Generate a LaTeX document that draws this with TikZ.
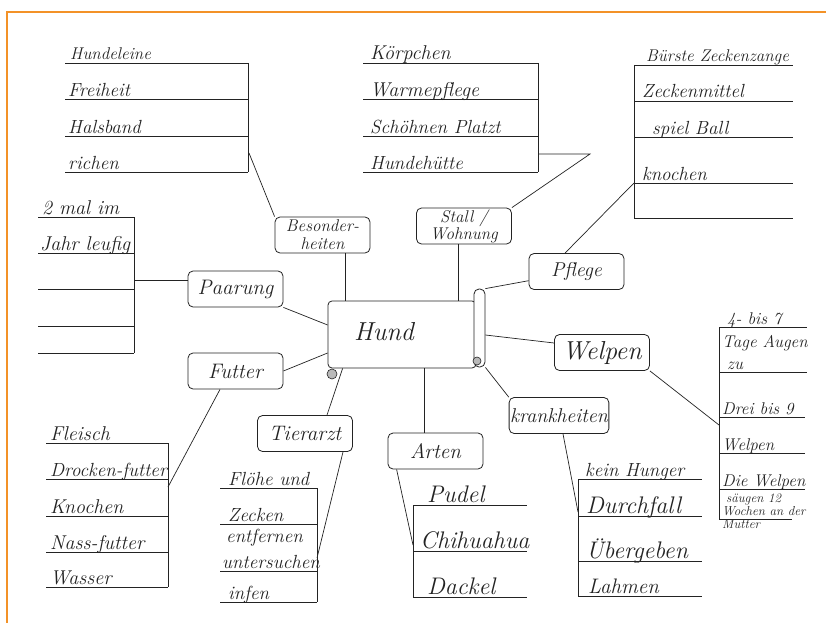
\documentclass[tikz,border=0pt]{standalone}
\usepackage{fontspec}
\usetikzlibrary{calc}
\definecolor{frameor}{RGB}{243,146,40}
\definecolor{ink}{RGB}{35,35,35}
\tikzset{
 box/.style={draw=ink, line width=0.8pt, rounded corners=5pt, minimum width=95pt, minimum height=36pt, inner sep=1pt, text=ink, align=center, font=\fontsize{21}{23}\selectfont\itshape},
 lst/.style={draw=ink, line width=0.9pt},
 conn/.style={draw=ink, line width=0.7pt},
 itm/.style={anchor=base west, inner sep=0pt, text=ink, font=\fontsize{19}{21}\selectfont\itshape},
 itmB/.style={itm, font=\fontsize{24}{26}\selectfont\itshape},
 itmM/.style={itm, font=\fontsize{21}{23}\selectfont\itshape},
 itmW/.style={itm, font=\fontsize{17}{19}\selectfont\itshape},
 itmS/.style={itm, font=\fontsize{13}{14}\selectfont\itshape},
}
\begin{document}
\begin{tikzpicture}[x=1pt,y=-1pt]
\useasboundingbox (0,0) rectangle (826,623);
\fill[white] (0,0) rectangle (826,623);
% frame
\draw[frameor, line width=2pt] (826,12) -- (7,12) -- (7,623);

% ---------- lists ----------
\draw[lst] (65,63) -- (248,63) (65,99) -- (248,99) (65,136) -- (248,136) (65,172) -- (248,172) (248,63) -- (248,172);
\node[itm, font=\fontsize{17}{19}\selectfont\itshape] (h1) at (70,60) {Hundeleine};
\node[itm] (h2) at (68,96) {Freiheit};
\node[itm] (h3) at (68,133) {Halsband};
\node[itm] (h4) at (68,169) {richen};

\draw[lst] (363,63) -- (538,63) (363,99) -- (538,99) (363,136) -- (538,136) (363,172) -- (538,172) (538,63) -- (538,172);
\node[itm, font=\fontsize{20}{22}\selectfont\itshape] (s1) at (370,60) {Körpchen};
\node[itm, font=\fontsize{20}{22}\selectfont\itshape] (s2) at (370,96) {Warmepflege};
\node[itm] (s3) at (370,133) {Schöhnen Platzt};
\node[itm] (s4) at (370,169) {Hundehütte};

\draw[lst] (634,65) -- (793,65) (634,101) -- (793,101) (634,137) -- (793,137) (634,183) -- (793,183) (634,218) -- (793,218) (634,65) -- (634,218);
\node[itm, font=\fontsize{17}{19}\selectfont\itshape] (p1) at (646,62) {Bürste Zeckenzange};
\node[itm] (p2) at (642,98) {Zeckenmittel};
\node[itm] (p3) at (652,134) {spiel Ball};
\node[itm] (p4) at (642,180) {knochen};

\draw[lst] (38,217) -- (134,217) (38,253) -- (134,253) (38,289) -- (134,289) (38,326) -- (134,326) (38,353) -- (134,353) (134,217) -- (134,353);
\node[itm, font=\fontsize{20}{22}\selectfont\itshape] (a1) at (42,214) {2 mal im};
\node[itm, font=\fontsize{20}{22}\selectfont\itshape] (a2) at (40,250) {Jahr leufig};

\draw[lst] (46,443) -- (168,443) (46,479) -- (168,479) (46,516) -- (168,516) (46,552) -- (168,552) (46,587) -- (168,587) (168,443) -- (168,587);
\node[itm, font=\fontsize{20}{22}\selectfont\itshape] (f1) at (50,440) {Fleisch};
\node[itm, font=\fontsize{19}{21}\selectfont\itshape] (f2) at (50,476) {Drocken-futter};
\node[itm, font=\fontsize{20}{22}\selectfont\itshape] (f3) at (50,513) {Knochen};
\node[itm, font=\fontsize{20}{22}\selectfont\itshape] (f4) at (50,549) {Nass-futter};
\node[itm, font=\fontsize{20}{22}\selectfont\itshape] (f5) at (50,584) {Wasser};

\draw[lst] (220,488) -- (317,488) (220,524) -- (317,524) (220,571) -- (317,571) (220,602) -- (317,602) (317,488) -- (317,602);
\node[itm] (z1) at (228,485) {Flöhe und};
\node[itm] (z2) at (228,521) {Zecken};
\node[itm] (z3) at (226,542) {entfernen};
\node[itm] (z4) at (222,568) {untersuchen};
\node[itm] (z5) at (228,599) {infen};

\draw[lst] (413,505) -- (527,505) (413,551) -- (527,551) (413,597) -- (527,597) (413,505) -- (413,597);
\node[itmB] (r1) at (427,502) {Pudel};
\node[itmB] (r2) at (420,548) {Chihuahua};
\node[itmB] (r3) at (427,594) {Dackel};

\draw[lst] (578,479) -- (702,479) (578,516) -- (702,516) (578,561) -- (702,561) (578,596) -- (702,596) (578,479) -- (578,596);
\node[itm] (k1) at (585,476) {kein Hunger};
\node[itmB] (k2) at (586,513) {Durchfall};
\node[itmB] (k3) at (586,558) {Übergeben};
\node[itmM] (k4) at (588,593) {Lahmen};

\draw[lst] (719,327) -- (807,327) (719,372) -- (807,372) (719,417) -- (805,417) (719,453) -- (805,453) (719,489) -- (805,489) (719,519) -- (792,519) (719,327) -- (719,519);
\node[itmW] (w1) at (727,324) {4- bis 7};
\node[itmW] (w2) at (722,347) {Tage Augen};
\node[itmW] (w3) at (727,369) {zu};
\node[itmW] (w4) at (722,414) {Drei bis 9};
\node[itmW] (w5) at (722,450) {Welpen};
\node[itmW] (w6) at (722,486) {Die Welpen};
\node[itmS] (w7) at (726,502) {säugen 12};
\node[itmS] (w8) at (722,515) {Wochen an der};
\node[itmS] (w9) at (722,528) {Mutter};

% ---------- central scroll ----------
\node[draw=ink, line width=0.8pt, rounded corners=4pt, minimum width=148pt, minimum height=67pt, inner xsep=0pt, inner ysep=0pt, text width=148pt, align=left, text=ink, font=\fontsize{26}{28}\selectfont\itshape] (hund) at (402,334.5) {\hspace*{26pt}\raisebox{6pt}{Hund}};
\node[draw=ink, fill=white, line width=0.8pt, rounded corners=5pt, minimum width=11pt, minimum height=78pt, inner sep=0pt] (roll) at (479.5,328) {};
\filldraw[draw=ink, fill=gray!55, line width=0.6pt] (477,361) circle (4pt);
\filldraw[draw=ink, fill=gray!55, line width=0.6pt] (332,374) circle (5pt);

% ---------- boxes ----------
\node[box, font=\fontsize{17}{18}\selectfont\itshape] (besond) at (322.5,235) {Besonder-\\heiten};
\node[box, font=\fontsize{17}{17}\selectfont\itshape] (stall) at (464,226) {Stall /\\Wohnung};
\node[box, font=\fontsize{20}{22}\selectfont\itshape] (pflege) at (576.5,271.5) {Pflege};
\node[box] (paarung) at (235.5,289) {Paarung};
\node[box] (futter) at (235.5,371) {Futter};
\node[box] (tierarzt) at (305,433.5) {Tierarzt};
\node[box] (arten) at (435.5,451) {Arten};
\node[box, font=\fontsize{20}{22}\selectfont\itshape] (krank) at (559,415.5) {krankheiten};
\node[box, font=\fontsize{26}{28}\selectfont\itshape] (welpen) at (602,352.5) {Welpen};

% ---------- connectors to scroll ----------
\coordinate (bsx) at ($(besond.south)+(23,0)$);
\draw[conn] (bsx) -- (bsx |- hund.north);
\coordinate (stx) at ($(stall.south)+(-6,0)$);
\draw[conn] (stx) -- (stx |- hund.north);
\coordinate (arx) at ($(arten.north)+(-11.5,0)$);
\draw[conn] (arx |- hund.south) -- (arx);
\draw[conn] ($(pflege.south west)!0.25!(pflege.north west)$) -- (roll.north east);
\draw[conn] ($(roll.east)+(0,7)$) -- ($(welpen.west)+(0,-9.5)$);
\draw[conn] (roll.south east) -- (krank.north west);
\draw[conn] ($(hund.south west)+(15,0)$) -- ($(tierarzt.north)+(22,0)$);
\draw[conn] (futter.east) -- ($(hund.west)+(0,18.5)$);
\draw[conn] (paarung.south east) -- ($(hund.west)+(0,-9.5)$);

% ---------- connectors to lists ----------
\coordinate (c1) at (249,153);
\draw[conn] (c1) -- (besond.north west);
\coordinate (c2) at (538,154);
\coordinate (c2b) at (590,154);
\draw[conn] (c2) -- (c2b) -- (stall.north east);
\coordinate (c3) at (634,183);
\draw[conn] (c3) -- ($(pflege.north)+(-11.5,0)$);
\coordinate (c4) at (134,280);
\draw[conn] (c4) -- (c4 -| paarung.west);
\coordinate (c5) at (168,487);
\draw[conn] ($(futter.south)+(-15.5,0)$) -- (c5);
\coordinate (c6) at (317,558);
\draw[conn] ($(tierarzt.south)+(38,0)$) -- (c6);
\coordinate (c7) at (413,545);
\draw[conn] ($(arten.south west)+(9,0)$) -- (c7);
\coordinate (c8) at (578,512);
\draw[conn] ($(krank.south)+(4,0)$) -- (c8);
\coordinate (c9) at (719,425);
\draw[conn] (welpen.south east) -- (c9);
\end{tikzpicture}
\end{document}
